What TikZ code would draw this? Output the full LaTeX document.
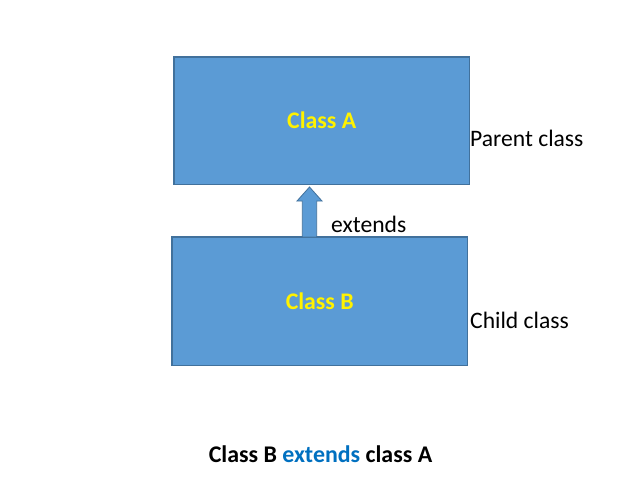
\documentclass[tikz,border=0pt]{standalone}
\usepackage{fontspec}
\setmainfont{Carlito}
\definecolor{boxfill}{HTML}{5B9BD5}
\definecolor{boxline}{HTML}{41719C}
\definecolor{extblue}{HTML}{0070C0}
\begin{document}
\begin{tikzpicture}[x=1pt,y=-1pt,
  classbox/.style={draw=boxline,fill=boxfill,line width=1.2pt},
  classtext/.style={font=\fontsize{23.8}{28}\selectfont\bfseries,text=yellow},
  sidetext/.style={font=\fontsize{23.6}{28}\selectfont,anchor=base west,inner sep=0pt}]
\useasboundingbox (0,0) rectangle (642,497);
\fill[white] (0,0) rectangle (642,497);
\draw[classbox] (174,57) rectangle (469.5,184.5);
\node[classtext] (a) at (321.7,120.5) {Class A};
\draw[classbox] (172,237) rectangle (467.3,365.3);
\node[classtext] (b) at (319.7,301) {Class B};
\coordinate (arrowbase) at (309,237);
\draw[boxline,fill=boxfill,line width=0.8pt] (302.3,237) -- (302.3,201) -- (297,201) -- (309.5,187) -- (322,201) -- (316.7,201) -- (316.7,237) -- cycle;
\node[sidetext] (ext) at (331,232) {extends};
\node[sidetext] (parent) at (470,147) {Parent class};
\node[sidetext] (child) at (470,328) {Child class};
\node[font=\fontsize{23.9}{28}\selectfont\bfseries,anchor=base,inner sep=0pt] (cap) at (320.5,462) {Class B \textcolor{extblue}{extends} class A};
\end{tikzpicture}
\end{document}
